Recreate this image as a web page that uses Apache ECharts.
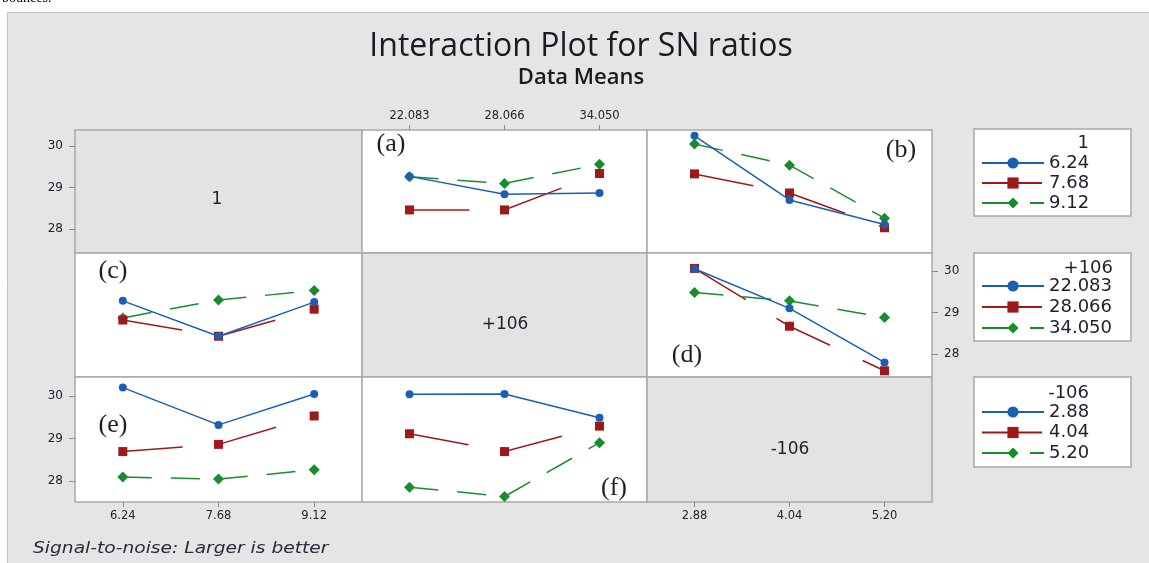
<!DOCTYPE html>
<html><head><meta charset="utf-8">
<script src="https://cdn.jsdelivr.net/npm/echarts@6/dist/echarts.min.js"></script>
<style>html,body{margin:0;padding:0;background:#fff}#c{width:1149px;height:563px}</style>
</head><body><div id="c"></div>
<script>
// Factor levels (tick labels / legend entries)
const levelsA = ['6.24', '7.68', '9.12'];        // factor "1"
const levelsB = ['22.083', '28.066', '34.050'];  // factor "+106"
const levelsC = ['2.88', '4.04', '5.20'];        // factor "-106"
const factorNames = ['1', '+106', '-106'];
const yTicks = [28, 29, 30];

// Panel (a): x = +106 levels, lines = factor 1 levels
const a_624 = [29.27, 28.84, 28.87];
const a_768 = [28.46, 28.46, 29.34];
const a_912 = [29.26, 29.10, 29.56];
// Panel (b): x = -106 levels, lines = factor 1 levels
const b_624 = [30.25, 28.70, 28.11];
const b_768 = [29.33, 28.87, 28.03];
const b_912 = [30.05, 29.54, 28.26];
// Panel (c): x = factor 1 levels, lines = +106 levels
const c_22083 = [29.28, 28.43, 29.25];
const c_28066 = [28.82, 28.43, 29.08];
const c_34050 = [28.87, 29.30, 29.53];
// Panel (d): x = -106 levels, lines = +106 levels
const d_22083 = [30.05, 29.10, 27.80];
const d_28066 = [30.06, 28.67, 27.60];
const d_34050 = [29.48, 29.28, 28.88];
// Panel (e): x = factor 1 levels, lines = -106 levels
const e_288 = [30.20, 29.32, 30.05];
const e_404 = [28.69, 28.86, 29.53];
const e_520 = [28.09, 28.04, 28.26];
// Panel (f): x = +106 levels, lines = -106 levels
const f_288 = [30.04, 30.05, 29.49];
const f_404 = [29.11, 28.69, 29.29];
const f_520 = [27.85, 27.63, 28.90];

const panels = [
  {grid: 1, label: '(a)', lines: levelsA, values: [a_624, a_768, a_912]},
  {grid: 2, label: '(b)', lines: levelsA, values: [b_624, b_768, b_912]},
  {grid: 3, label: '(c)', lines: levelsB, values: [c_22083, c_28066, c_34050]},
  {grid: 5, label: '(d)', lines: levelsB, values: [d_22083, d_28066, d_34050]},
  {grid: 6, label: '(e)', lines: levelsC, values: [e_288, e_404, e_520]},
  {grid: 7, label: '(f)', lines: levelsC, values: [f_288, f_404, f_520]}
];

// layout
const colLeft = [75, 362, 647], colW = [287, 285, 285];
const rowTop = [130, 253, 377], rowH = [123, 124, 125];
const rowRange = [[27.42, 30.39], [27.45, 30.43], [27.5, 30.45]];
const colLevels = [levelsA, levelsB, levelsC];
const styles = [
  {color: '#1b5fb5', symbol: 'circle', size: 8, dash: 'solid'},
  {color: '#9e1a1a', symbol: 'rect', size: 9, dash: [60, 36]},
  {color: '#1a8c2e', symbol: 'diamond', size: 11, dash: [29, 19]}
];
const FONT = 'Open Sans';
const NUMFONT = 'DejaVu Sans';
const TXT = '#22222e';

const grids = [], xAxes = [], yAxes = [];
for (let r = 0; r < 3; r++) {
  for (let c = 0; c < 3; c++) {
    const i = r * 3 + c;
    const diag = r === c;
    grids.push({left: colLeft[c], top: rowTop[r], width: colW[c], height: rowH[r],
      show: true, backgroundColor: diag ? '#e3e3e3' : '#ffffff',
      borderColor: '#a9a9a9', borderWidth: 1.5});
    const showX = (r === 0 && c === 1) || (r === 2 && c === 0) || (r === 2 && c === 2);
    xAxes.push({gridIndex: i, type: 'category', data: colLevels[c], boundaryGap: true,
      position: r === 0 ? 'top' : 'bottom',
      axisLine: {show: false},
      axisTick: {show: showX, alignWithLabel: true, length: 5, lineStyle: {color: '#8a8a8a'}},
      axisLabel: {show: showX, margin: 8, fontSize: 11.5, color: TXT, fontFamily: NUMFONT}});
    const showY = (r === 0 && c === 0) || (r === 1 && c === 2) || (r === 2 && c === 0);
    yAxes.push({gridIndex: i, type: 'value', min: rowRange[r][0], max: rowRange[r][1],
      position: (r === 1) ? 'right' : 'left',
      splitLine: {show: false}, axisLine: {show: false},
      axisTick: {show: showY, customValues: yTicks, length: 6, lineStyle: {color: '#8a8a8a'}},
      axisLabel: {show: showY, customValues: yTicks, margin: 12, fontSize: 12, color: TXT, fontFamily: NUMFONT}});
  }
}

const series = [];
panels.forEach(p => {
  p.values.forEach((vals, k) => {
    const st = styles[k];
    series.push({type: 'line', name: p.lines[k], xAxisIndex: p.grid, yAxisIndex: p.grid,
      data: vals, symbol: st.symbol, symbolSize: st.size, color: st.color,
      itemStyle: {color: st.color},
      lineStyle: {color: st.color, width: 1.5, type: st.dash}, z: 3 - k});
  });
});

const legendBase = {orient: 'vertical', padding: 0, itemWidth: 62, itemHeight: 14,
  selectedMode: false, z: 6,
  textStyle: {fontSize: 18, lineHeight: 20, color: TXT, fontFamily: NUMFONT}};
const legends = [
  Object.assign({}, legendBase, {data: levelsA, left: 981, top: 153, itemGap: 0}),
  Object.assign({}, legendBase, {data: levelsB, left: 981, top: 276, itemGap: 1}),
  Object.assign({}, legendBase, {data: levelsC, left: 981, top: 402, itemGap: 0.5})
];

const panelLabelPos = {'(a)': [391, 144], '(b)': [901, 150], '(c)': [113, 271],
  '(d)': [687, 355], '(e)': [113, 425], '(f)': [614, 488]};

const graphics = [
  {type: 'rect', shape: {x: 0, y: 0, width: 1149, height: 12}, style: {fill: '#fff'}, z: 100},
  {type: 'rect', shape: {x: 0, y: 0, width: 7, height: 563}, style: {fill: '#fff'}, z: 100},
  {type: 'line', shape: {x1: 7.5, y1: 12, x2: 7.5, y2: 563}, style: {stroke: '#c4c4c4', lineWidth: 1}, z: 100},
  {type: 'line', shape: {x1: 7, y1: 12.5, x2: 1149, y2: 12.5}, style: {stroke: '#c4c4c4', lineWidth: 1}, z: 100},
  {type: 'text', x: 2, y: -9, style: {text: 'bounces.', fontSize: 14, fontFamily: 'Liberation Serif', fill: '#000'}, z: 101},
  // legend frames
  {type: 'rect', shape: {x: 974, y: 129, width: 157, height: 87}, style: {fill: '#fff', stroke: '#a9a9a9', lineWidth: 1.5}, z: 1},
  {type: 'rect', shape: {x: 974, y: 253, width: 157, height: 88}, style: {fill: '#fff', stroke: '#a9a9a9', lineWidth: 1.5}, z: 1},
  {type: 'rect', shape: {x: 974, y: 377, width: 157, height: 90}, style: {fill: '#fff', stroke: '#a9a9a9', lineWidth: 1.5}, z: 1},
  // legend titles
  {type: 'text', x: 1089, y: 143, style: {text: factorNames[0], align: 'right', verticalAlign: 'middle', fontSize: 18, fontFamily: NUMFONT, fill: TXT}, z: 7},
  {type: 'text', x: 1113, y: 268, style: {text: factorNames[1], align: 'right', verticalAlign: 'middle', fontSize: 18, fontFamily: NUMFONT, fill: TXT}, z: 7},
  {type: 'text', x: 1089, y: 393, style: {text: factorNames[2], align: 'right', verticalAlign: 'middle', fontSize: 18, fontFamily: NUMFONT, fill: TXT}, z: 7},
  // diagonal cell names
  {type: 'text', x: 217, y: 200, style: {text: factorNames[0], align: 'center', verticalAlign: 'middle', fontSize: 17, fontFamily: NUMFONT, fill: TXT}, z: 7},
  {type: 'text', x: 505, y: 325, style: {text: factorNames[1], align: 'center', verticalAlign: 'middle', fontSize: 17, fontFamily: NUMFONT, fill: TXT}, z: 7},
  {type: 'text', x: 790, y: 450, style: {text: factorNames[2], align: 'center', verticalAlign: 'middle', fontSize: 17, fontFamily: NUMFONT, fill: TXT}, z: 7},
  // footer
  {type: 'text', x: 33, y: 549, scaleX: 1.13, style: {text: 'Signal-to-noise: Larger is better', verticalAlign: 'middle', fontSize: 16.5, fontStyle: 'italic', fontFamily: NUMFONT, fill: '#2a2a3a'}, z: 7}
];
panels.forEach(p => {
  const pos = panelLabelPos[p.label];
  graphics.push({type: 'text', x: pos[0], y: pos[1], style: {text: p.label, align: 'center', verticalAlign: 'middle',
    fontSize: 26, fontFamily: 'Liberation Serif', fill: '#1e1e2a'}, z: 7});
});

const chart = echarts.init(document.getElementById('c'), null, {renderer: 'canvas'});
chart.setOption({
  animation: false,
  backgroundColor: '#e5e5e5',
  title: {text: 'Interaction Plot for SN ratios', subtext: 'Data Means', left: 581, top: 31,
    textAlign: 'center', padding: 0, itemGap: 4,
    textStyle: {fontSize: 32, fontWeight: 'normal', color: '#1a1a22', fontFamily: FONT},
    subtextStyle: {fontSize: 22, fontWeight: 600, color: '#1a1a22', fontFamily: FONT}},
  grid: grids, xAxis: xAxes, yAxis: yAxes, series: series, legend: legends,
  graphic: {elements: graphics}
});
</script></body></html>
